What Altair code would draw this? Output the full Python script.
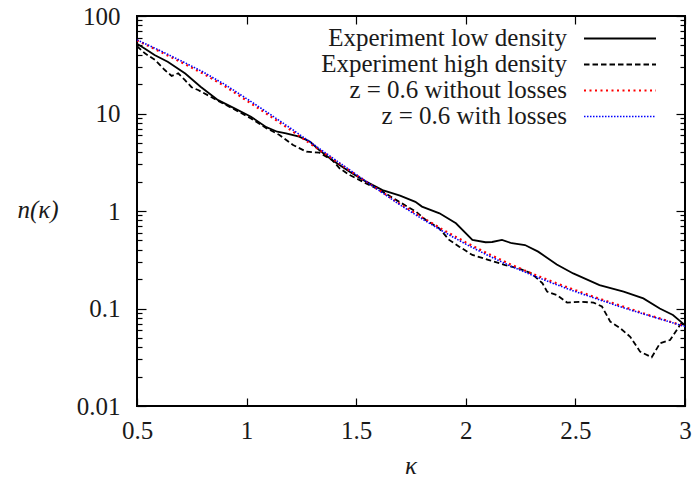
import altair as alt
import pandas as pd

# ---------------- data ----------------
theory_k = [0.5, 0.6, 0.7, 0.8, 0.9, 1.0, 1.1, 1.2, 1.3, 1.4, 1.5, 1.6, 1.7,
            1.8, 1.9, 2.0, 2.1, 2.2, 2.3, 2.4, 2.5, 2.6, 2.7, 2.8, 2.9, 3.0]
without_losses_n = [56.2, 43.7, 33.7, 25.8, 19.1, 13.6, 9.66, 6.79, 4.75, 3.33,
                    2.34, 1.66, 1.18, 0.861, 0.634, 0.476, 0.366, 0.286, 0.229,
                    0.186, 0.154, 0.128, 0.108, 0.0908, 0.0771, 0.0656]
with_losses_n = [56.9, 44.7, 34.8, 26.8, 19.9, 14.2, 10.07, 7.08, 4.92, 3.40,
                 2.37, 1.65, 1.156, 0.832, 0.610, 0.457, 0.351, 0.275, 0.221,
                 0.180, 0.149, 0.125, 0.105, 0.0893, 0.0764, 0.0653]

low_k = [0.50, 0.54, 0.58, 0.64, 0.72, 0.79, 0.87, 0.945, 1.02, 1.09, 1.14,
         1.18, 1.24, 1.29, 1.33, 1.39, 1.47, 1.545, 1.62, 1.70, 1.77, 1.80,
         1.88, 1.955, 2.03, 2.09, 2.12, 2.165, 2.21, 2.27, 2.33, 2.415, 2.49,
         2.61, 2.72, 2.81, 2.885, 2.945, 2.99, 3.00]
low_n = [51.9, 45.7, 39.8, 33.9, 25.7, 18.8, 13.7, 11.3, 9.27, 7.24, 6.50,
         6.27, 5.78, 5.13, 4.23, 3.33, 2.53, 2.00, 1.64, 1.44, 1.24, 1.11,
         0.946, 0.748, 0.505, 0.478, 0.481, 0.505, 0.467, 0.448, 0.383, 0.283,
         0.229, 0.174, 0.149, 0.127, 0.100, 0.0857, 0.0705, 0.0668]

high_k = [0.50, 0.536, 0.582, 0.627, 0.658, 0.688, 0.718, 0.749, 0.779, 0.87,
          0.945, 1.02, 1.09, 1.15, 1.212, 1.273, 1.333, 1.39, 1.424, 1.47,
          1.545, 1.62, 1.697, 1.773, 1.818, 1.879, 1.924, 1.97, 2.03, 2.106,
          2.18, 2.24, 2.30, 2.35, 2.371, 2.417, 2.462, 2.523, 2.583, 2.621,
          2.659, 2.705, 2.75, 2.795, 2.848, 2.886, 2.932, 2.977, 2.99]
high_n = [49.0, 41.4, 35.4, 27.9, 24.3, 25.8, 22.1, 18.6, 17.4, 13.5,
          11.0, 8.9, 7.08, 6.03, 4.75, 4.06, 3.96, 3.33, 2.74, 2.34,
          1.92, 1.58, 1.24, 0.984, 0.809, 0.664, 0.505, 0.431, 0.354, 0.314,
          0.279, 0.258, 0.229, 0.181, 0.149, 0.137, 0.115, 0.117, 0.115, 0.105,
          0.0733, 0.0627, 0.0513, 0.0361, 0.0316, 0.0440, 0.0475, 0.0676, 0.0724]

legend_labels = ["Experiment low density", "Experiment high density",
                 "z = 0.6 without losses", "z = 0.6 with losses"]
x_title = "κ"
y_title = "n(κ)"

x_ticks = [0.5, 1, 1.5, 2, 2.5, 3]
y_major = [0.01, 0.1, 1, 10, 100]
y_minor = [m * 10.0 ** e for e in range(-2, 2) for m in range(2, 10)]

# ---------------- styling ----------------
W, H = 548, 390
LEFT = 129
FONT = "Liberation Serif"
TXT = "#1a1a1a"

xs = alt.Scale(domain=[0.5, 3], nice=False, zero=False)
ys = alt.Scale(type="log", domain=[0.01, 100], nice=False)

ax_x_labels = alt.Axis(orient="bottom", values=x_ticks, format="~g", ticks=False,
                       tickSize=0, domain=False, grid=False, labelPadding=12,
                       labelFlush=False, labelFont=FONT, labelFontSize=25,
                       labelColor=TXT, title=None)
ax_y_labels = alt.Axis(orient="left", values=y_major, format="~g", ticks=False,
                       tickSize=0, domain=False, grid=False, labelPadding=17,
                       labelFlush=False, labelFont=FONT, labelFontSize=25,
                       labelColor=TXT, title=None)


def x_tick_axis(orient):
    return alt.Axis(orient=orient, offset=-H, values=x_ticks, labels=False,
                    domain=False, grid=False, title=None, tickSize=8,
                    tickColor="black", tickWidth=1.2)


def y_tick_axis(orient, values, size):
    return alt.Axis(orient=orient, offset=-W, values=values, labels=False,
                    domain=False, grid=False, title=None, tickSize=size,
                    tickColor="black", tickWidth=1.2)


low_df = pd.DataFrame({"k": low_k, "n": low_n})
high_df = pd.DataFrame({"k": high_k, "n": high_n})
red_df = pd.DataFrame({"k": theory_k, "n": without_losses_n})
blue_df = pd.DataFrame({"k": theory_k, "n": with_losses_n})

low_line = alt.Chart(low_df).mark_line(color="black", strokeWidth=1.8, clip=True).encode(
    x=alt.X("k:Q", scale=xs, axis=ax_x_labels),
    y=alt.Y("n:Q", scale=ys, axis=ax_y_labels),
)
high_line = alt.Chart(high_df).mark_line(color="black", strokeWidth=1.8,
                                         strokeDash=[5.5, 3], clip=True).encode(
    x=alt.X("k:Q", scale=xs, axis=x_tick_axis("top")),
    y=alt.Y("n:Q", scale=ys, axis=y_tick_axis("right", y_major, 9)),
)
red_line = alt.Chart(red_df).mark_line(color="#ff0000", strokeWidth=2.2,
                                       strokeDash=[2, 3.5], clip=True).encode(
    x=alt.X("k:Q", scale=xs, axis=x_tick_axis("bottom")),
    y=alt.Y("n:Q", scale=ys, axis=y_tick_axis("left", y_major, 9)),
)
blue_line = alt.Chart(blue_df).mark_line(color="#0000ff", strokeWidth=1.6,
                                         strokeDash=[1.5, 1.5], clip=True).encode(
    x=alt.X("k:Q", scale=xs, axis=None),
    y=alt.Y("n:Q", scale=ys, axis=y_tick_axis("right", y_minor, 5)),
)
minor_right = alt.Chart(blue_df).mark_line(opacity=0).encode(
    x=alt.X("k:Q", scale=xs, axis=None),
    y=alt.Y("n:Q", scale=ys, axis=y_tick_axis("left", y_minor, 5)),
)

styles = [
    dict(color="black", strokeWidth=1.8),
    dict(color="black", strokeWidth=1.8, strokeDash=[5.5, 3]),
    dict(color="#ff0000", strokeWidth=2.2, strokeDash=[2, 3.5]),
    dict(color="#0000ff", strokeWidth=1.6, strokeDash=[1.5, 1.5]),
]

text_layers = []
for i, (lab, st) in enumerate(zip(legend_labels, styles)):
    ly = 22.5 + 26 * i
    d = pd.DataFrame({"label": [lab]})
    text_layers.append(
        alt.Chart(d).mark_text(align="right", baseline="alphabetic", font=FONT,
                               fontSize=25, color=TXT).encode(
            x=alt.value(567 - LEFT - 8), y=alt.value(ly + 7.5), text="label:N")
    )
    text_layers.append(
        alt.Chart(d).mark_rule(**st).encode(
            x=alt.value(584 - LEFT - 8), x2=alt.value(656 - LEFT - 8), y=alt.value(ly))
    )

text_layers.append(
    alt.Chart(pd.DataFrame({"label": [y_title]})).mark_text(
        align="center", baseline="middle", font=FONT, fontSize=25,
        fontStyle="italic", color=TXT).encode(
        x=alt.value(38 - LEFT - 8), y=alt.value(194), text="label:N")
)
text_layers.append(
    alt.Chart(pd.DataFrame({"label": [x_title]})).mark_text(
        align="center", baseline="middle", font=FONT, fontSize=25,
        fontStyle="italic", color=TXT).encode(
        x=alt.value(W / 2), y=alt.value(450), text="label:N")
)

chart = alt.layer(low_line, high_line, red_line, blue_line, minor_right,
                  *text_layers).resolve_axis(
    x="independent", y="independent"
).properties(
    width=W, height=H,
    autosize=alt.AutoSizeParams(type="none"),
    padding={"left": LEFT, "top": 8, "right": 7, "bottom": 74},
).configure_view(stroke="black", strokeWidth=2)

chart.save("out.html", embed_options={"renderer": "svg", "actions": False})
